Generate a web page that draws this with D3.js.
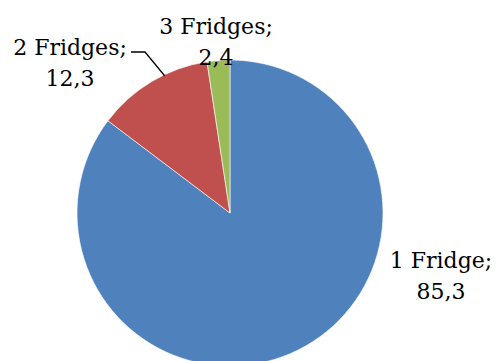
<!DOCTYPE html>
<html>
<head>
<meta charset="utf-8">
<script src="https://cdn.jsdelivr.net/npm/d3@7"></script>
<style>
  html, body { margin: 0; padding: 0; background: #fff; }
  svg { display: block; }
</style>
</head>
<body>
<div id="chart"><svg width="498" height="361"></svg></div>
<script>
const categories = ["1 Fridge", "2 Fridges", "3 Fridges"];
const values = [85.3, 12.3, 2.4];
const colors = ["#4F81BD", "#C0504D", "#9BBB59"];

// label placement (x, first baseline) per slice, Excel "best fit" style
const labelPos = [[441, 268], [70, 55], [216, 34]];

const width = 498, height = 361;
const cx = 230, cy = 213, radius = 153;

const svg = d3.select("#chart").select("svg");
const g = svg.append("g").attr("transform", "translate(" + cx + "," + cy + ")");

const data = categories.map((c, i) => ({ name: c, value: values[i], color: colors[i] }));

const pie = d3.pie().sort(null).value(d => d.value);
const arc = d3.arc().innerRadius(0).outerRadius(radius);
const arcs = pie(data);

g.selectAll("path.slice")
  .data(arcs)
  .enter()
  .append("path")
  .attr("class", "slice")
  .attr("d", arc)
  .attr("fill", d => d.data.color)
  .attr("stroke", "#fff")
  .attr("stroke-width", 0.6);

// leader line for the 2 Fridges label
const a2 = arcs[1];
const edge = d3.arc().innerRadius(radius - 1).outerRadius(radius - 1);
const ang = a2.startAngle + (a2.endAngle - a2.startAngle) * 0.62;
const p = edge.centroid({ startAngle: ang, endAngle: ang });
svg.append("polyline")
  .attr("points", [[131, 52], [145, 52], [cx + p[0], cy + p[1]]].map(q => q.join(",")).join(" "))
  .attr("fill", "none")
  .attr("stroke", "#000")
  .attr("stroke-width", 1.3);

const labels = svg.selectAll("text.lbl")
  .data(data)
  .enter()
  .append("text")
  .attr("class", "lbl")
  .attr("text-anchor", "middle")
  .attr("font-family", "'DejaVu Serif', serif")
  .attr("font-size", 22)
  .attr("fill", "#000");

labels.append("tspan")
  .attr("x", (d, i) => labelPos[i][0])
  .attr("y", (d, i) => labelPos[i][1])
  .text(d => d.name + ";");
labels.append("tspan")
  .attr("x", (d, i) => labelPos[i][0])
  .attr("dy", 31)
  .text(d => String(d.value).replace(".", ","));
</script>
</body>
</html>
